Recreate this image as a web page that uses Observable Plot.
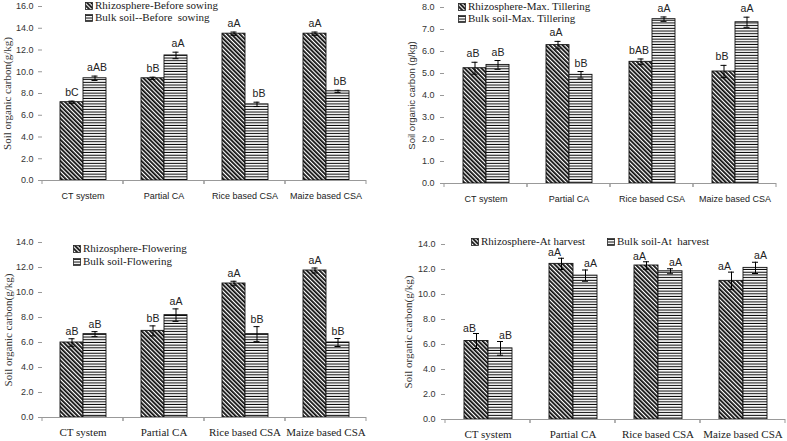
<!DOCTYPE html>
<html><head><meta charset="utf-8">
<script src="https://cdn.jsdelivr.net/npm/d3@7"></script>
<script src="https://cdn.jsdelivr.net/npm/@observablehq/plot@0.6"></script>
<style>
body{margin:0;background:#fff;}
#wrap{position:relative;width:787px;height:441px;overflow:hidden;background:#fff;}
.panel{position:absolute;}
.panel svg{overflow:visible;display:block;}
.legend{position:absolute;font-family:"Liberation Serif",serif;font-size:11px;color:#222;line-height:13px;white-space:pre;}
.legend svg{vertical-align:-1px;margin-right:2px;}
</style></head><body>
<svg width="0" height="0" style="position:absolute">
  <defs>
    <pattern id="diag" patternUnits="userSpaceOnUse" width="3" height="10" patternTransform="rotate(-45)">
      <rect width="3" height="10" fill="#fff"/>
      <line x1="0.9" y1="0" x2="0.9" y2="10" stroke="#000" stroke-width="1.7"/>
    </pattern>
    <pattern id="horiz" patternUnits="userSpaceOnUse" width="10" height="2.7">
      <rect width="10" height="2.7" fill="#fff"/>
      <line x1="0" y1="1.3" x2="10" y2="1.3" stroke="#000" stroke-width="1"/>
    </pattern>
  </defs>
</svg>
<div id="wrap"></div>
<script>
// ---------- data ----------
const categories = ["CT system", "Partial CA", "Rice based CSA", "Maize based CSA"];
const seriesKeys = ["Rhizosphere", "Bulk soil"];

// Panel 1: Before sowing
const p1Legend = ["Rhizosphere-Before sowing", "Bulk soil--Before  sowing"];
const p1Rhizo = [7.2, 9.4, 13.5, 13.5];
const p1RhizoErr = [0.1, 0.1, 0.15, 0.15];
const p1Bulk = [9.4, 11.5, 7.0, 8.2];
const p1BulkErr = [0.2, 0.3, 0.2, 0.1];
const p1RhizoLetters = ["bC", "bB", "aA", "aA"];
const p1BulkLetters = ["aAB", "aA", "bB", "bB"];
const p1Ticks = [0, 2, 4, 6, 8, 10, 12, 14, 16];

// Panel 2: Max. Tillering
const p2Legend = ["Rhizosphere-Max. Tillering", "Bulk soil-Max. Tillering"];
const p2Rhizo = [5.24, 6.29, 5.53, 5.09];
const p2RhizoErr = [0.27, 0.17, 0.13, 0.28];
const p2Bulk = [5.39, 4.94, 7.47, 7.33];
const p2BulkErr = [0.2, 0.15, 0.1, 0.23];
const p2RhizoLetters = ["aB", "aA", "bAB", "bB"];
const p2BulkLetters = ["aB", "bB", "aA", "aA"];
const p2Ticks = [0, 1, 2, 3, 4, 5, 6, 7, 8];

// Panel 3: Flowering
const p3Legend = ["Rhizosphere-Flowering", "Bulk soil-Flowering"];
const p3Rhizo = [6.0, 6.93, 10.72, 11.76];
const p3RhizoErr = [0.3, 0.4, 0.18, 0.2];
const p3Bulk = [6.67, 8.19, 6.67, 6.0];
const p3BulkErr = [0.2, 0.5, 0.6, 0.32];
const p3RhizoLetters = ["aB", "bB", "aA", "aA"];
const p3BulkLetters = ["aB", "aA", "bB", "bB"];
const p3Ticks = [0, 2, 4, 6, 8, 10, 12, 14];

// Panel 4: At harvest
const p4Legend = ["Rhizosphere-At harvest", "Bulk soil-At  harvest"];
const p4Rhizo = [6.28, 12.45, 12.32, 11.09];
const p4RhizoErr = [0.6, 0.45, 0.3, 0.7];
const p4Bulk = [5.69, 11.51, 11.86, 12.13];
const p4BulkErr = [0.55, 0.45, 0.2, 0.45];
const p4RhizoLetters = ["aB", "aA", "aA", "aA"];
const p4BulkLetters = ["aB", "aA", "aA", "aA"];
const p4Ticks = [0, 2, 4, 6, 8, 10, 12, 14];

// ---------- build ----------
const wrap = document.getElementById("wrap");
const SVGNS = "http://www.w3.org/2000/svg";

function boundaryTicks(index, scales, values, dims) {
  const g = document.createElementNS(SVGNS, "g");
  const y0 = scales.y(0);
  for (const xx of [dims.marginLeft, dims.width - dims.marginRight]) {
    const l = document.createElementNS(SVGNS, "line");
    l.setAttribute("x1", xx); l.setAttribute("x2", xx);
    l.setAttribute("y1", y0); l.setAttribute("y2", y0 + 4);
    l.setAttribute("stroke", "#999");
    g.appendChild(l);
  }
  return g;
}

function makePanel(cfg) {
  const rows = [];
  categories.forEach((c, i) => {
    rows.push({category: c, series: seriesKeys[0], value: cfg.rhizo[i], err: cfg.rhizoErr[i], letter: cfg.rhizoLetters[i]});
    rows.push({category: c, series: seriesKeys[1], value: cfg.bulk[i], err: cfg.bulkErr[i], letter: cfg.bulkLetters[i]});
  });
  rows.forEach(d => { d.lo = d.value - d.err; d.hi = d.value + d.err; });
  const rz = rows.filter(d => d.series === seriesKeys[0]);
  const bk = rows.filter(d => d.series === seriesKeys[1]);

  const svg = Plot.plot({
    width: cfg.width, height: cfg.height,
    marginLeft: cfg.ml, marginRight: cfg.mr, marginTop: cfg.mt, marginBottom: cfg.mb,
    style: {fontFamily: "Liberation Sans, Arial, sans-serif", fontSize: "9px", color: "#333", background: "transparent", overflow: "visible"},
    fx: {domain: categories, padding: 0, label: null},
    x: {domain: seriesKeys, paddingInner: 0, paddingOuter: cfg.po, axis: null},
    y: {domain: [0, cfg.ticks[cfg.ticks.length - 1]]},
    color: {domain: seriesKeys, range: ["url(#diag)", "url(#horiz)"]},
    marks: [
      Plot.barY(rows, {fx: "category", x: "series", y: "value", fill: "series", stroke: "#111", strokeWidth: 0.9}),
      Plot.ruleX(rows, {fx: "category", x: "series", y1: "lo", y2: "hi", stroke: "#000", strokeWidth: 1}),
      Plot.tickY(rows, {fx: "category", x: "series", y: "hi", stroke: "#000", strokeWidth: 1, insetLeft: cfg.cap, insetRight: cfg.cap}),
      Plot.tickY(rows, {fx: "category", x: "series", y: "lo", stroke: "#000", strokeWidth: 1, insetLeft: cfg.cap, insetRight: cfg.cap}),
      Plot.text(rz, {fx: "category", x: "series", y: "hi", text: "letter", lineAnchor: "bottom", dy: cfg.dyR, dx: cfg.dxR, fontSize: 10.5, fill: "#222"}),
      Plot.text(bk, {fx: "category", x: "series", y: "hi", text: "letter", lineAnchor: "bottom", dy: cfg.dyB, dx: cfg.dxB, fontSize: 10.5, fill: "#222"}),
      Plot.ruleY([0], {stroke: "#999", strokeWidth: 1}),
      boundaryTicks,
      Plot.axisY({ticks: cfg.ticks, tickFormat: d => d.toFixed(1), tickSize: 4, tickPadding: cfg.tp, stroke: "#999", fill: "#333",
        line: true, label: cfg.yLabel, labelAnchor: "center", labelArrow: "none", labelOffset: cfg.lo}),
      Plot.axisFx({anchor: "bottom", tickSize: 0, tickPadding: cfg.fxPad, label: null, fontFamily: cfg.catFont, fontSize: cfg.catSize, fill: "#222"})
    ]
  });
  const lab = svg.querySelectorAll('g[aria-label="y-axis label"] text');
  lab.forEach(t => {
    t.setAttribute("font-family", cfg.yLabelFont);
    t.setAttribute("font-size", cfg.yLabelSize);
    t.setAttribute("fill", "#333");
  });
  const div = document.createElement("div");
  div.className = "panel";
  div.style.left = cfg.left + "px";
  div.style.top = cfg.top + "px";
  div.style.width = cfg.width + "px";
  div.appendChild(svg);
  wrap.appendChild(div);

  // legend
  const swatch = i => `<svg width="8" height="8"><rect x="0.5" y="0.5" width="7" height="7" fill="url(#${i ? "horiz" : "diag"})" stroke="#222" stroke-width="0.8"/></svg>`;
  cfg.legendPos.forEach((p, i) => {
    const lg = document.createElement("div");
    lg.className = "legend";
    lg.style.left = p[0] + "px";
    lg.style.top = p[1] + "px";
    lg.innerHTML = swatch(i) + cfg.legend[i];
    wrap.appendChild(lg);
  });
}

makePanel({left: 0, top: 0, width: 390, height: 210, ml: 42, mr: 24, mt: 6, mb: 30, po: 0.72, cap: 8.5,
  rhizo: p1Rhizo, rhizoErr: p1RhizoErr, bulk: p1Bulk, bulkErr: p1BulkErr,
  rhizoLetters: p1RhizoLetters, bulkLetters: p1BulkLetters, ticks: p1Ticks,
  dxR: 0, dyR: -5, dxB: 2, dyB: -5, tp: 5, fxPad: 12, catFont: "Liberation Sans, Arial, sans-serif", catSize: 9,
  yLabel: "Soil organic carbon(g/kg)", yLabelFont: "Liberation Serif, serif", yLabelSize: 11, lo: 39,
  legend: p1Legend, legendPos: [[85, -1], [85, 11]]});

makePanel({left: 395, top: 0, width: 392, height: 212, ml: 49, mr: 11, mt: 7, mb: 29, po: 0.77, cap: 8.5,
  rhizo: p2Rhizo, rhizoErr: p2RhizoErr, bulk: p2Bulk, bulkErr: p2BulkErr,
  rhizoLetters: p2RhizoLetters, bulkLetters: p2BulkLetters, ticks: p2Ticks,
  dxR: -2, dyR: -5, dxB: 0, dyB: -5, tp: 6, fxPad: 12, catFont: "Liberation Sans, Arial, sans-serif", catSize: 9,
  yLabel: "Soil organic carbon (g/kg)", yLabelFont: "Liberation Sans, Arial, sans-serif", yLabelSize: 9.5, lo: 36,
  legend: p2Legend, legendPos: [[458, 0], [458, 12]]});

makePanel({left: 0, top: 225, width: 390, height: 216, ml: 42, mr: 24, mt: 17, mb: 24, po: 0.72, cap: 8.5,
  rhizo: p3Rhizo, rhizoErr: p3RhizoErr, bulk: p3Bulk, bulkErr: p3BulkErr,
  rhizoLetters: p3RhizoLetters, bulkLetters: p3BulkLetters, ticks: p3Ticks,
  dxR: 0, dyR: -4, dxB: 0, dyB: -4, tp: 5, fxPad: 11, catFont: "Liberation Serif, serif", catSize: 11,
  yLabel: "Soil organic carbon(g/kg)", yLabelFont: "Liberation Serif, serif", yLabelSize: 11, lo: 38,
  legend: p3Legend, legendPos: [[73, 242], [73, 255]]});

makePanel({left: 395, top: 225, width: 392, height: 216, ml: 50, mr: 2, mt: 19, mb: 22, po: 0.73, cap: 9,
  rhizo: p4Rhizo, rhizoErr: p4RhizoErr, bulk: p4Bulk, bulkErr: p4BulkErr,
  rhizoLetters: p4RhizoLetters, bulkLetters: p4BulkLetters, ticks: p4Ticks,
  dxR: -7, dyR: -2, dxB: 5, dyB: -3, tp: 6, fxPad: 11, catFont: "Liberation Serif, serif", catSize: 11,
  yLabel: "Soil organic carbon(g/kg)", yLabelFont: "Liberation Serif, serif", yLabelSize: 11, lo: 41,
  legend: p4Legend, legendPos: [[471, 235], [607, 235]]});
</script>
</body></html>
